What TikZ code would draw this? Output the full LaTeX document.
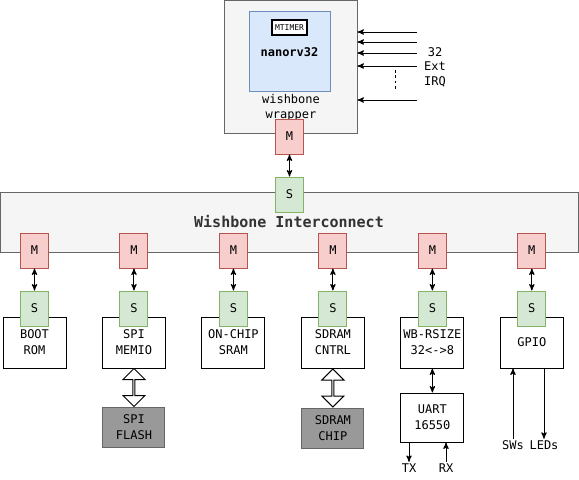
\documentclass[tikz,border=0pt]{standalone}
\usepackage{fontspec}
\setmainfont{DejaVu Sans Mono}
\usepackage{tikz}
\usetikzlibrary{arrows, positioning, shapes.arrows, calc}

\definecolor{mfill}{HTML}{F8CECC}
\definecolor{mdraw}{HTML}{B85450}
\definecolor{sfill}{HTML}{D5E8D4}
\definecolor{sdraw}{HTML}{82B366}
\definecolor{cpufill}{HTML}{DAE8FC}
\definecolor{cpudraw}{HTML}{6C8EBF}
\definecolor{boxfill}{HTML}{F5F5F5}
\definecolor{boxdraw}{HTML}{666666}
\definecolor{chipfill}{HTML}{999999}
\definecolor{busText}{HTML}{333333}

\begin{document}
\begin{tikzpicture}[
    x=0.75pt, y=-0.75pt, line width=0.75pt,
    txt/.style={font=\fontsize{9}{12}\selectfont, align=center, inner sep=1pt},
    wrap/.style={rectangle, draw=boxdraw, fill=boxfill, minimum width=99.75pt, minimum height=99.75pt},
    cpu/.style={rectangle, draw=cpudraw, fill=cpufill, minimum width=60.75pt, minimum height=60pt},
    timer/.style={rectangle, draw, line width=1pt, fill=white, font=\fontsize{6}{7}\selectfont, inner sep=0pt, minimum width=26.25pt, minimum height=11.25pt},
    bus/.style={rectangle, draw=boxdraw, fill=boxfill, minimum width=433.5pt, minimum height=45pt, text=busText, font=\fontsize{11.25}{13}\selectfont\bfseries},
    mst/.style={txt, rectangle, draw=mdraw, fill=mfill, minimum width=21pt, minimum height=26.25pt},
    slv/.style={txt, rectangle, draw=sdraw, fill=sfill, minimum width=21pt, minimum height=26.25pt},
    periph/.style={txt, rectangle, draw, fill=white, minimum width=47.25pt, minimum height=38.25pt},
    chip/.style={txt, rectangle, draw=boxdraw, fill=chipfill, minimum width=46.5pt, minimum height=30pt},
    wide/.style={double arrow, draw, fill=white, rotate=90, inner sep=0pt, minimum width=16.5pt, minimum height=28.5pt, double arrow head extend=3.75pt, double arrow head indent=0pt},
    line/.style={draw, -stealth'},
    both/.style={draw, stealth'-stealth'}
]
\useasboundingbox (0,0) rectangle (579,479);

% CPU and its wrapper
\node [wrap] (wrapper) at (290.5,66.5) {};
\node [cpu] (cpu) at (289.5,51) {};
\node [timer] (mtimer) at (289.5,27.5) {MTIMER};
\node [txt, font=\fontsize{9}{12}\selectfont\bfseries] (core) at (289.5,52) {nanorv32};
\node [txt, font=\fontsize{9}{11.25}\selectfont] (wraptext) at (291,107.5) {wishbone\\wrapper};

% External interrupts
\coordinate (irq1) at (417,32);
\coordinate (irq2) at (417,42);
\coordinate (irq3) at (417,53);
\coordinate (irq4) at (417,66);
\coordinate (irq5) at (417,100);
\path [line] (irq1) -- (irq1 -| wrapper.east);
\path [line] (irq2) -- (irq2 -| wrapper.east);
\path [line] (irq3) -- (irq3 -| wrapper.east);
\path [line] (irq4) -- (irq4 -| wrapper.east);
\path [line] (irq5) -- (irq5 -| wrapper.east);
\draw [dash pattern=on 2pt off 2pt] (395,70) -- (395,91);
\node [txt, font=\fontsize{9}{10.9}\selectfont] (irq) at (435,67) {32\\Ext\\IRQ};

% Interconnect
\node [bus] (bus) at (289,222) {Wishbone Interconnect};
\node [mst, below=-11.25pt of wrapper.south -| cpu] (mcpu) {M};
\node [slv, below=16.5pt of mcpu] (scpu) {S};
\path [both] (mcpu) -- (scpu);

% Slaves
\node [periph] (boot) at (34.5,342.5) {BOOT\\ROM};
\node [periph, right=26.6pt of boot] (memio) {SPI\\MEMIO};
\node [periph, right=26.6pt of memio] (sram) {ON-CHIP\\SRAM};
\node [periph, right=26.6pt of sram] (sdram) {SDRAM\\CNTRL};
\node [periph, right=26.6pt of sdram] (rsize) {WB-RSIZE\\32<->8};
\node [periph, right=26.6pt of rsize] (gpio) {GPIO};

\node [slv, above=-7.5pt of boot] (sboot) {S};
\node [slv, above=-7.5pt of memio] (smemio) {S};
\node [slv, above=-7.5pt of sram] (ssram) {S};
\node [slv, above=-7.5pt of sdram] (ssdram) {S};
\node [slv, above=-7.5pt of rsize] (srsize) {S};
\node [slv, above=-7.5pt of gpio] (sgpio) {S};

\node [mst, above=16.5pt of sboot] (mboot) {M};
\node [mst, above=16.5pt of smemio] (mmemio) {M};
\node [mst, above=16.5pt of ssram] (msram) {M};
\node [mst, above=16.5pt of ssdram] (msdram) {M};
\node [mst, above=16.5pt of srsize] (mrsize) {M};
\node [mst, above=16.5pt of sgpio] (mgpio) {M};

\path [both] (mboot) -- (sboot);
\path [both] (mmemio) -- (smemio);
\path [both] (msram) -- (ssram);
\path [both] (msdram) -- (ssdram);
\path [both] (mrsize) -- (srsize);
\path [both] (mgpio) -- (sgpio);

% Chips and UART
\node [chip, below=28.5pt of memio] (flash) {SPI\\FLASH};
\node [chip, below=29.25pt of sdram] (sdchip) {SDRAM\\CHIP};
\node [wide] (flashlink) at ($(memio.south)!0.5!(flash.north)$) {};
\node [wide] (sdlink) at ($(sdram.south)!0.5!(sdchip.north)$) {};

\node [periph, minimum height=36.75pt, below=18pt of rsize] (uart) {UART\\16550};
\path [both] (rsize) -- (uart);

% Pins
\node [txt] (tx) at (409,468) {TX};
\node [txt] (rx) at (446,468) {RX};
\node [txt] (sws) at (513,445) {SWs};
\node [txt] (leds) at (544,445) {LEDs};
\path [line] (tx.north |- uart.south) -- (tx.north);
\path [line] (rx.north) -- (rx.north |- uart.south);
\path [line] (sws.north) -- (sws.north |- gpio.south);
\path [line] (leds.north |- gpio.south) -- (leds.north);

\end{tikzpicture}
\end{document}
